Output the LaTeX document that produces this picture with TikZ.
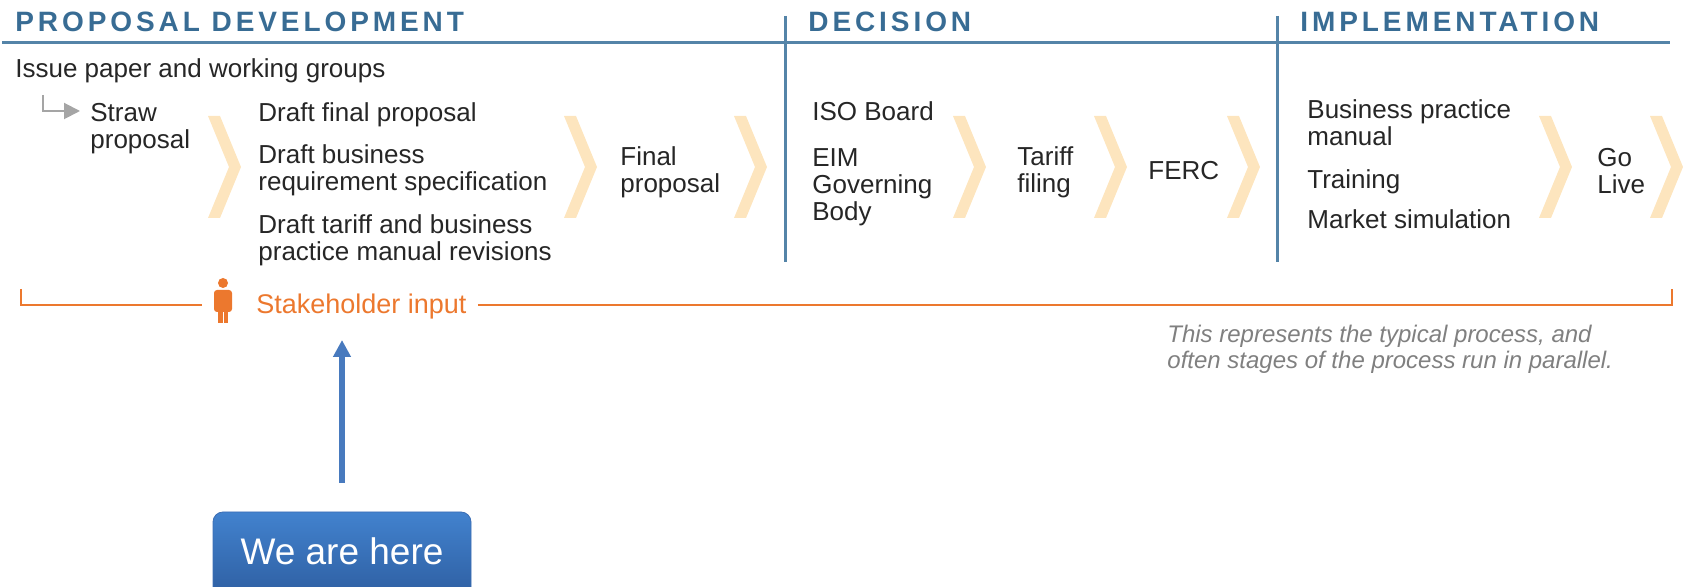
\documentclass[tikz,border=0pt]{standalone}
\usepackage{fontspec}
\setmainfont{Liberation Sans}
\newfontfamily\headfont[LetterSpace=14]{Liberation Sans}
\usetikzlibrary{arrows.meta}
\definecolor{headblue}{RGB}{56,108,148}
\definecolor{ruleblue}{RGB}{84,132,168}
\definecolor{chev}{RGB}{253,229,190}
\definecolor{ink}{RGB}{38,38,38}
\definecolor{stakeorange}{RGB}{236,120,46}
\definecolor{notegray}{RGB}{128,128,128}
\definecolor{hookgray}{RGB}{165,165,165}
\definecolor{pointblue}{RGB}{72,122,190}
\newcommand{\bodyfont}{\fontsize{13pt}{13.5pt}\selectfont}

\begin{document}
\begin{tikzpicture}[x=0.5pt, y=-0.5pt,
    phase/.style = {anchor=base west, inner sep=0pt, text=headblue, font=\headfont\bfseries\fontsize{14pt}{14pt}\selectfont},
    item/.style = {anchor=north west, inner sep=0pt, align=left, text=ink, font=\bodyfont},
    stakeline/.style = {draw=stakeorange, line width=1pt},
    herebox/.style = {rounded corners=5pt, top color={rgb,255:red,66;green,130;blue,206}, bottom color={rgb,255:red,40;green,84;blue,148}, draw={rgb,255:red,60;green,110;blue,180}, text=white, font=\fontsize{18.5pt}{18.5pt}\selectfont}]
      \useasboundingbox (0,0) rectangle (1683,587);
      \clip (0,0) rectangle (1683,587);

      \node [phase] (prop) at (15,32) {PROPOSAL DEVELOPMENT};
      \node [phase] (dec) at (808,32) {DECISION};
      \node [phase] (impl) at (1300,32) {IMPLEMENTATION};
      \draw [ruleblue, line width=1.5pt] (2,43) -- (1670,43);
      \foreach \dx in {785, 1277}
               {
                 \draw [ruleblue, line width=1.5pt] (\dx,16) -- (\dx,262);
               }

      \foreach \cx in {208, 564, 734, 953, 1094, 1227, 1539, 1650}
               {
                 \fill [chev] (\cx,116) -- ++(12,0) -- ++(21,51) -- ++(-21,51) -- ++(-12,0) -- ++(21,-51) -- cycle;
               }

      \node [item] (issue) at (15,58) {Issue paper and working groups};
      \node [item] (straw) at (90,103) {Straw\\proposal};
      \coordinate (hook) at (43,95);
      \coordinate (hookend) at (80,111);
      \draw [hookgray, line width=1pt, -{Triangle[length=8pt, width=8pt]}] (hook) |- (hookend);

      \node [item] (dfp) at (258,102) {Draft final proposal};
      \node [item] (dbr) at (258,144) {Draft business\\requirement specification};
      \node [item] (dtb) at (258,214) {Draft tariff and business\\practice manual revisions};
      \node [item] (final) at (620,146) {Final\\proposal};

      \node [item] (iso) at (812,101) {ISO Board};
      \node [item] (eim) at (812,148) {EIM\\Governing\\Body};
      \node [item] (tariff) at (1017,146) {Tariff\\filing};
      \node [item] (ferc) at (1148,161) {FERC};

      \node [item] (bpm) at (1307,99) {Business practice\\manual};
      \node [item] (train) at (1307,169) {Training};
      \node [item] (market) at (1307,209) {Market simulation};
      \node [item] (golive) at (1597,148) {Go\\Live};

      \coordinate (person) at (223,305);
      \fill [stakeorange] (223,283) circle (2.5pt);
      \fill [stakeorange, rounded corners=1.5pt] (214,290) rectangle (232,312);
      \fill [stakeorange] (218,308) rectangle (222.5,323);
      \fill [stakeorange] (223.5,308) rectangle (228,323);
      \node [anchor=base west, inner sep=0pt, text=stakeorange, font=\fontsize{13.5pt}{13.5pt}\selectfont] (stake) at (256,314) {Stakeholder input};
      \coordinate (bl) at (21,289);
      \coordinate (br) at (1672,289);
      \draw [stakeline] (bl) |- ([xshift=-10.5pt]person);
      \draw [stakeline] ([xshift=5.5pt]stake.east |- person) -| (br);

      \node [anchor=north west, inner sep=0pt, align=left, text=notegray, font=\itshape\fontsize{12pt}{13pt}\selectfont] (note) at (1167,325) {This represents the typical process, and\\often stages of the process run in parallel.};

      \node [herebox, anchor=base, text height=13.5pt, text depth=16pt, inner ysep=13pt, minimum width=129pt] (here) at (342,565) {We are here};
      \coordinate (tip) at (342,340);
      \draw [pointblue, line width=3pt, shorten <=14.5pt, -{Triangle[length=8.5pt, width=8.5pt]}] (here.north) -- (tip);
\end{tikzpicture}
\end{document}
